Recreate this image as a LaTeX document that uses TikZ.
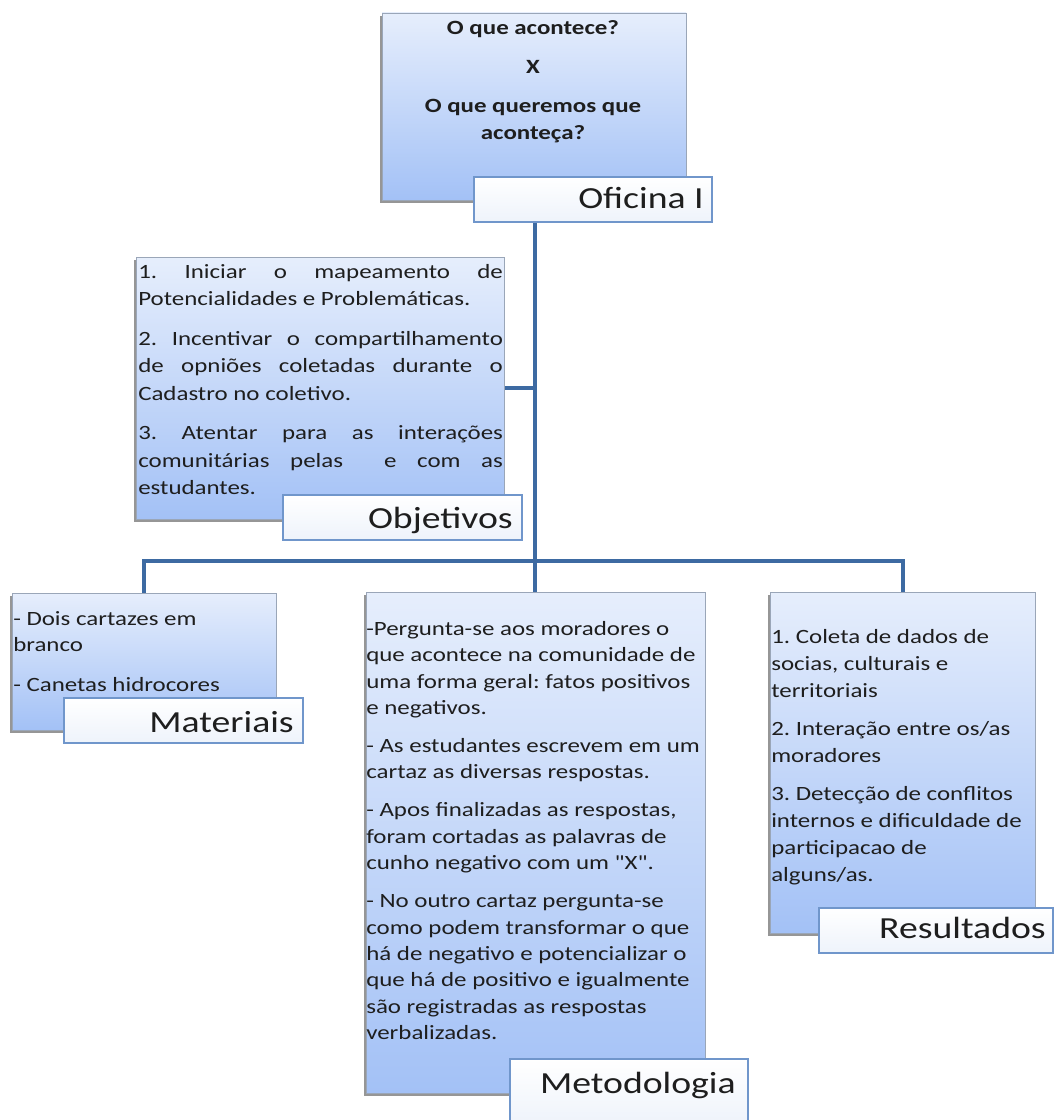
\documentclass[tikz,border=0pt]{standalone}
\usepackage{fontspec}
\setmainfont{Carlito}[FakeStretch=1.23, Ligatures=TeXOff]
\usetikzlibrary{shadows,fit,backgrounds}
\definecolor{conncol}{HTML}{3D6AA2}
\definecolor{boxtop}{HTML}{E6EEFC}
\definecolor{boxbot}{HTML}{A3C1F6}
\definecolor{boxedge}{HTML}{9AA6B8}
\definecolor{lbledge}{HTML}{7096CB}
\definecolor{lblbot}{HTML}{EEF3FB}
\definecolor{txt}{HTML}{1E1E1E}
\frenchspacing
\begin{document}
\frenchspacing
\begin{tikzpicture}[x=0.75pt,y=-0.75pt,
  conn/.style={draw=conncol, line width=3pt},
  panel/.style={inner sep=0pt, draw=boxedge, line width=0.6pt, top color=boxtop, bottom color=boxbot,
    drop shadow={shadow xshift=-1.2pt, shadow yshift=-2.4pt, opacity=0.55, fill=black!75}},
  tag/.style={inner sep=0pt, draw=lbledge, line width=0.9pt, top color=white, bottom color=lblbot},
  tagtext/.style={anchor=base east, inner sep=0pt, font=\fontsize{23}{27}\selectfont, text=txt},
  body/.style={inner sep=0pt, anchor=north west, text=txt, align=left},
]
\useasboundingbox (0,0) rectangle (1056,1120);

% top box
\node[panel, fit={(382,13) (686,200)}] (q) {};
\node[body, anchor=north, align=center, font=\bfseries\fontsize{15.2}{20.25}\selectfont] (qt) at (533,20)
  {O que acontece?\\[9pt]X\\[9pt]O que queremos que\\aconteça?};
\node[tag, fit={(474,177) (712,222)}] (ofl) {};
\node[tagtext] (oflt) at (704,208) {Oficina I};

% objetivos
\node[panel, fit={(136,257) (504,519)}] (obj) {};
\node[body, text width=273.5pt, align=justify, font=\fontsize{15.2}{20.6}\selectfont] (objt) at (138,264)
  {1. Iniciar o mapeamento de\linebreak Potencialidades e Problemáticas.\\[9pt]
   2. Incentivar o compartilhamento\linebreak de opniões coletadas durante o\linebreak Cadastro no coletivo.\\[9pt]
   3. Atentar para as interações\linebreak comunitárias pelas\ \ e com as\linebreak estudantes.};
\node[tag, fit={(283,495) (522,540)}] (objl) {};
\node[tagtext] (objlt) at (513,528) {Objetivos};

% materiais
\node[panel, fit={(12,593) (276,730)}] (mat) {};
\node[body, font=\fontsize{15.2}{19.5}\selectfont] (matt) at (13,611)
  {- Dois cartazes em\\branco\\[10.5pt]- Canetas hidrocores};
\node[tag, fit={(64,698) (303,743)}] (matl) {};
\node[tagtext] (matlt) at (294,732) {Materiais};

% metodologia
\node[panel, fit={(366,592) (705,1093)}] (met) {};
\node[body, font=\fontsize{15.2}{19.8}\selectfont] (mett) at (366,621)
  {-Pergunta-se aos moradores o\\que acontece na comunidade de\\uma forma geral: fatos positivos\\e negativos.\\[8.7pt]
   - As estudantes escrevem em um\\cartaz as diversas respostas.\\[8.7pt]
   - Apos finalizadas as respostas,\\foram cortadas as palavras de\\cunho negativo com um "X".\\[8.7pt]
   - No outro cartaz pergunta-se\\como podem transformar o que\\há de negativo e potencializar o\\que há de positivo e igualmente\\são registradas as respostas\\verbalizadas.};
\node[tag, fit={(510,1059) (748,1125)}] (metl) {};
\node[tagtext] (metlt) at (736,1093) {Metodologia};

% resultados
\node[panel, fit={(770,592) (1035,933)}] (res) {};
\node[body, font=\fontsize{15.2}{20.25}\selectfont] (rest) at (771,629)
  {1. Coleta de dados de\\socias, culturais e\\territoriais\\[8.2pt]
   2. Interação entre os/as\\moradores\\[8.2pt]
   3. Detecção de conflitos\\internos e dificuldade de\\participacao de\\alguns/as.};
\node[tag, fit={(819,908) (1053,953)}] (resl) {};
\node[tagtext] (reslt) at (1046,938) {Resultados};

% connectors
\coordinate (hub) at (535,561);
\begin{scope}[on background layer]
\fill[white] (0,0) rectangle (1056,1120);
\draw[conn] (ofl.south -| hub) -- (hub);
\draw[conn] (obj.east) -- (obj.east -| hub);
\draw[conn] (mat.north) |- (hub) -| (res.north);
\draw[conn] (hub) -- (hub |- met.north);
\end{scope}
\end{tikzpicture}
\end{document}
